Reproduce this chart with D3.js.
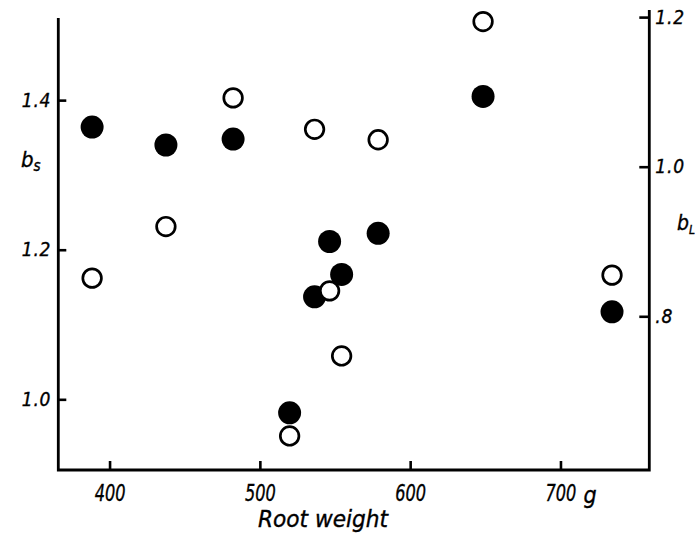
<!DOCTYPE html>
<html>
<head>
<meta charset="utf-8">
<script src="https://cdn.jsdelivr.net/npm/d3@7"></script>
<style>
  html, body { margin: 0; padding: 0; background: #fff; }
  svg { display: block; }
  text { font-family: "DejaVu Sans Condensed", "DejaVu Sans", sans-serif; font-stretch: condensed; font-style: italic; fill: #000; stroke: #000; stroke-width: 0.35px; }
</style>
</head>
<body>
<svg id="chart" width="699" height="537"></svg>
<script>
// Root weight (g) for each plant
const rootWeight = [388.4, 437.5, 482.2, 519.8, 536.4, 546.4, 554.4, 578.7, 648.5, 734.3];
// b_S (filled circles, left axis)
const bS = [1.364, 1.340, 1.348, 0.982, 1.137, 1.211, 1.167, 1.222, 1.405, 1.117];
// b_L (open circles, right axis)
const bL = [0.851, 0.920, 1.092, 0.640, 1.050, 0.834, 0.747, 1.036, 1.194, 0.855];

const xTicks = [400, 500, 600, 700];
const leftTicks = [1.0, 1.2, 1.4];
const rightTicks = [0.8, 1.0, 1.2];
const leftTickLabels = ["1.0", "1.2", "1.4"];
const rightTickLabels = [".8", "1.0", "1.2"];

const svg = d3.select("#chart");

const x = d3.scaleLinear().domain([365.9, 759.1]).range([58.3, 649.3]);
const yS = d3.scaleLinear().domain([0.9055, 1.5098]).range([470, 18]);
const yL = d3.scaleLinear().domain([0.5945, 1.2095]).range([470, 10]);

// Bottom axis
const gx = svg.append("g").attr("transform", "translate(0,470)")
  .call(d3.axisBottom(x).tickValues(xTicks).tickSizeInner(-9).tickSizeOuter(0).tickPadding(15)
    .tickFormat(d3.format("d")));
gx.select(".domain").remove();
gx.selectAll(".tick line").attr("stroke", "#000").attr("stroke-width", 2.6);
gx.selectAll(".tick text").attr("font-size", 23).attr("dy", "0.71em")
  .attr("transform", "scale(0.78,1)");

// Left axis
const gl = svg.append("g").attr("transform", "translate(58.3,0)")
  .call(d3.axisLeft(yS).tickValues(leftTicks).tickSizeInner(-8).tickSizeOuter(0).tickPadding(7)
    .tickFormat((d, i) => leftTickLabels[i]));
gl.select(".domain").remove();
gl.selectAll(".tick line").attr("stroke", "#000").attr("stroke-width", 2.6);
gl.selectAll(".tick text").attr("font-size", 19).attr("letter-spacing", 0.8);

// Right axis
const gr = svg.append("g").attr("transform", "translate(649.3,0)")
  .call(d3.axisRight(yL).tickValues(rightTicks).tickSizeInner(-10).tickSizeOuter(0).tickPadding(6)
    .tickFormat((d, i) => rightTickLabels[i]));
gr.select(".domain").remove();
gr.selectAll(".tick line").attr("stroke", "#000").attr("stroke-width", 2.6);
gr.selectAll(".tick text").attr("font-size", 19).attr("letter-spacing", 0.8);

// Frame lines (left, bottom, right)
const frame = d3.path();
frame.moveTo(x.range()[0], yS.range()[1]);
frame.lineTo(x.range()[0], 470);
frame.lineTo(x.range()[1], 470);
frame.lineTo(x.range()[1], yL.range()[1]);
svg.append("path").attr("d", frame.toString()).attr("fill", "none")
  .attr("stroke", "#000").attr("stroke-width", 2.8).attr("stroke-linejoin", "miter");

// Points: filled (b_S) then open (b_L)
svg.append("g").selectAll("circle").data(rootWeight).join("circle")
  .attr("cx", d => x(d)).attr("cy", (d, i) => yS(bS[i])).attr("r", 11.5).attr("fill", "#000");
svg.append("g").selectAll("circle").data(rootWeight).join("circle")
  .attr("cx", d => x(d)).attr("cy", (d, i) => yL(bL[i])).attr("r", 9.3)
  .attr("fill", "#fff").attr("stroke", "#000").attr("stroke-width", 2.7);

// Axis titles
svg.append("text").attr("x", x(700) + 23).attr("y", 503).attr("font-size", 23)
  .attr("text-anchor", "start").text("g");
svg.append("text").attr("x", 323).attr("y", 527).attr("font-size", 23)
  .attr("text-anchor", "middle").attr("textLength", 130).attr("lengthAdjust", "spacingAndGlyphs")
  .text("Root weight");

const tS = svg.append("text").attr("x", 21).attr("y", 167).attr("font-size", 22);
tS.append("tspan").text("b");
tS.append("tspan").attr("font-size", 15).attr("dy", 4).text("s");

const tL = svg.append("text").attr("x", 677).attr("y", 230).attr("font-size", 21);
tL.append("tspan").text("b");
tL.append("tspan").attr("font-size", 12).attr("dy", 4).text("L");
</script>
</body>
</html>
